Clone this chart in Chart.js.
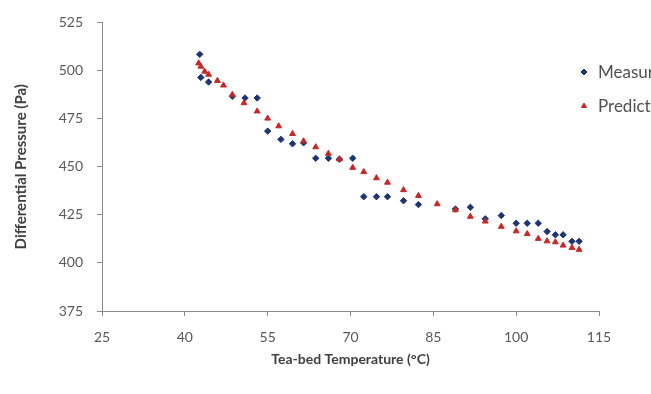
<!DOCTYPE html>
<html>
<head>
<meta charset="utf-8">
<script src="https://cdn.jsdelivr.net/npm/chart.js@4.4.1/dist/chart.umd.min.js"></script>
<style>
  html, body { margin: 0; padding: 0; background: #fff; }
  #wrap { width: 651px; height: 394px; }
</style>
</head>
<body>
<div id="wrap"><canvas id="myChart" width="651" height="394"></canvas></div>
<script>
// values
const measuredTemp = [42.7, 42.9, 44.3, 48.6, 50.9, 53.1, 55.0, 57.4, 59.5, 61.5, 63.7, 66.0, 68.0, 70.4,
  72.4, 74.7, 76.7, 79.6, 82.3, 89.0, 91.7, 94.4, 97.3, 100.0, 102.0, 104.0, 105.6, 107.1, 108.5, 110.1, 111.4];
const measuredPressure = [508.4, 496.4, 494.0, 486.6, 485.7, 485.7, 468.5, 464.2, 461.9, 462.4, 454.4, 454.4, 453.9, 454.4,
  434.4, 434.4, 434.4, 432.3, 430.3, 428.0, 428.9, 422.9, 424.6, 420.6, 420.6, 420.6, 416.3, 414.6, 414.6, 411.2, 411.2];

const predictedTemp = [42.5, 42.9, 43.6, 44.3, 45.9, 47.0, 48.6, 50.7, 53.1, 55.0, 57.0, 59.5, 61.5, 63.7, 66.0, 68.0,
  70.4, 72.4, 74.7, 76.7, 79.6, 82.3, 85.7, 89.0, 91.7, 94.4, 97.3, 100.0, 102.0, 104.0, 105.6, 107.1, 108.5, 110.1, 111.4];
const predictedPressure = [503.8, 502.1, 499.5, 497.9, 494.7, 492.3, 487.4, 483.1, 478.8, 475.1, 471.1, 467.1, 463.3, 460.2, 456.8, 453.9,
  449.5, 447.3, 444.1, 441.8, 437.9, 434.9, 430.6, 427.5, 424.1, 421.6, 418.9, 416.5, 415.1, 412.6, 411.3, 410.8, 409.1, 407.9, 406.9];

const seriesNames = ['Measured', 'Predicted'];
const xTitle = 'Tea-bed Temperature (°C)';
const yTitle = 'Differential Pressure (Pa)';
const X_MIN = 25, X_MAX = 115, X_STEP = 15;
const Y_MIN = 375, Y_MAX = 525, Y_STEP = 25;

const BLUE = '#1f3572';
const RED = '#c62828';
const AXIS = '#8a8a8a';
const FONT = 'Lato, "Open Sans", sans-serif';

const toPoints = (xs, ys) => xs.map((x, i) => ({ x: x, y: ys[i] }));

// legend drawn by hand so it runs off the right edge like the original
const sideLegend = {
  id: 'sideLegend',
  afterDraw(chart) {
    const ctx = chart.ctx;
    const rows = [72, 106];
    ctx.save();
    ctx.font = '17px ' + FONT;
    ctx.textBaseline = 'middle';
    chart.data.datasets.forEach((ds, i) => {
      const x = 584;
      ctx.fillStyle = ds.backgroundColor;
      ctx.strokeStyle = ds.borderColor;
      Chart.helpers.drawPoint(ctx, { pointStyle: ds.pointStyle, radius: 3, borderWidth: 1 }, x, rows[i]);
      ctx.fillStyle = '#505050';
      ctx.fillText(ds.label, x + 14, rows[i] + 1);
    });
    ctx.restore();
  }
};

const setup = () => {
  const ctxt = document.getElementById('myChart').getContext('2d');
  Chart.defaults.font.family = FONT;

  new Chart(ctxt, {
    type: 'scatter',
    data: {
      datasets: [
        {
          label: seriesNames[0],
          data: toPoints(measuredTemp, measuredPressure),
          pointStyle: 'rectRot',
          pointRadius: 3.2,
          backgroundColor: BLUE,
          borderColor: BLUE,
          borderWidth: 1,
          order: 2
        },
        {
          label: seriesNames[1],
          data: toPoints(predictedTemp, predictedPressure),
          pointStyle: 'triangle',
          pointRadius: 3.4,
          backgroundColor: RED,
          borderColor: RED,
          borderWidth: 1,
          order: 1
        }
      ]
    },
    options: {
      responsive: false,
      animation: false,
      layout: { padding: { top: 21, right: 52, left: 0, bottom: 0 } },
      plugins: {
        legend: { display: false },
        tooltip: { enabled: false }
      },
      scales: {
        x: {
          type: 'linear',
          min: X_MIN, max: X_MAX,
          afterFit: (s) => { s.height = 83; },
          ticks: { stepSize: X_STEP, color: '#595959', font: { size: 14 }, padding: 13 },
          grid: { drawOnChartArea: false, drawTicks: true, tickLength: 5, color: AXIS },
          border: { color: AXIS, width: 1 },
          title: { display: true, text: xTitle, color: '#404040', font: { size: 14, weight: 'bold' }, padding: { top: 0, bottom: 26 } }
        },
        y: {
          min: Y_MIN, max: Y_MAX,
          afterFit: (s) => { s.width = 102; },
          ticks: { stepSize: Y_STEP, color: '#595959', font: { size: 14 }, padding: 14 },
          grid: { drawOnChartArea: false, drawTicks: true, tickLength: 5, color: AXIS },
          border: { color: AXIS, width: 1 },
          title: { display: true, text: yTitle, color: '#404040', font: { size: 15, weight: 'bold' }, padding: { top: 12, bottom: 0 } }
        }
      }
    },
    plugins: [sideLegend]
  });
};

window.addEventListener('DOMContentLoaded', setup);
</script>
</body>
</html>
